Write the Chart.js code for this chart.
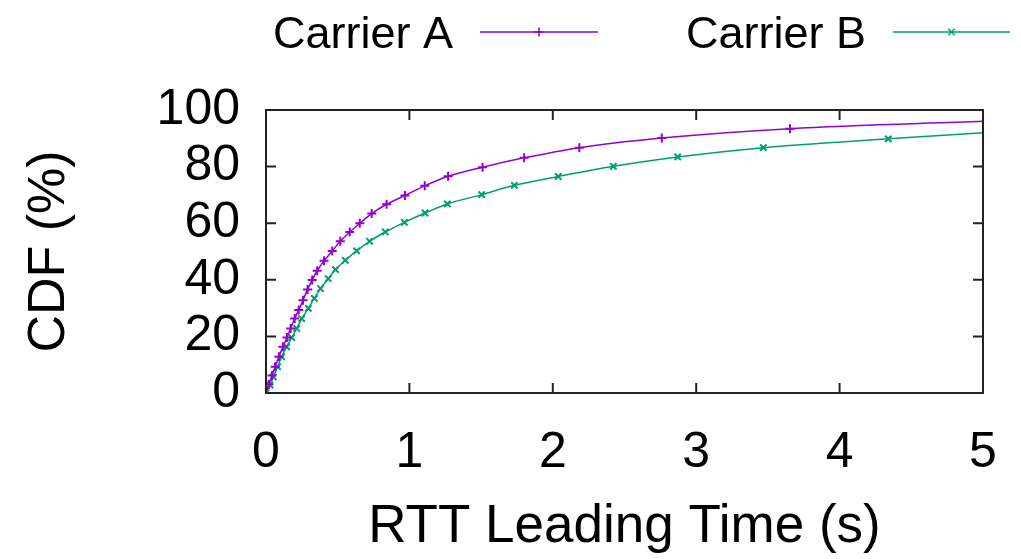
<!DOCTYPE html>
<html>
<head>
<meta charset="utf-8">
<script src="https://cdn.jsdelivr.net/npm/chart.js@4/dist/chart.umd.min.js"></script>
<style>
  html, body { margin: 0; padding: 0; background: #fff; }
  #wrap { width: 1021px; height: 559px; position: relative; }
</style>
</head>
<body>
<div id="wrap"><canvas id="cdf"></canvas></div>
<script>
// series (x in seconds, y in %)
const seriesNames = ['Carrier A', 'Carrier B'];
const carrierA_x = [0, 0.02, 0.042, 0.064, 0.09, 0.118, 0.146, 0.172, 0.2, 0.228, 0.258, 0.29, 0.322, 0.357, 0.405, 0.462, 0.518, 0.584, 0.654, 0.737, 0.841, 0.969, 1.107, 1.27, 1.51, 1.80, 2.185, 2.76, 3.654, 5.0];
const carrierA_y = [0, 3.0, 6.2, 9.3, 12.8, 16.3, 19.6, 22.8, 26.3, 29.3, 32.8, 36.6, 39.9, 43.2, 46.7, 50.2, 53.6, 56.9, 60.0, 63.4, 66.7, 69.8, 73.2, 76.6, 79.8, 83.1, 86.7, 90.1, 93.4, 96.0];
const carrierB_x = [0, 0.028, 0.051, 0.081, 0.109, 0.144, 0.179, 0.214, 0.249, 0.295, 0.337, 0.38, 0.434, 0.485, 0.553, 0.632, 0.722, 0.832, 0.965, 1.109, 1.265, 1.504, 1.732, 2.038, 2.422, 2.871, 3.468, 4.34, 5.0];
const carrierB_y = [0, 2.8, 5.7, 9.3, 12.8, 16.3, 19.6, 22.8, 26.3, 29.9, 33.4, 36.9, 40.4, 43.6, 46.9, 50.2, 53.6, 56.9, 60.3, 63.6, 66.8, 70.1, 73.4, 76.5, 80.1, 83.4, 86.7, 89.8, 92.0];
const xTicks = [0, 1, 2, 3, 4, 5];
const yTicks = [0, 20, 40, 60, 80, 100];

const colA = '#9400d3', colB = '#009e73';
const FONT = '"Liberation Sans", Arial, Helvetica, sans-serif';

const toPts = (xs, ys) => xs.map((x, i) => ({x: x, y: ys[i]}));
// last point is just where the line gets clipped, no marker there
const noLastMarker = (ctx) => ctx.dataIndex === ctx.dataset.data.length - 1 ? 0 : 4.5;

// gnuplot-like frame with inward ticks on all four sides
const frameTicks = {
  id: 'frameTicks',
  afterDraw(chart) {
    const {ctx, chartArea: a, scales: {x, y}} = chart;
    ctx.save();
    ctx.strokeStyle = '#222';
    ctx.lineWidth = 2;
    ctx.strokeRect(a.left, a.top, a.right - a.left, a.bottom - a.top);
    const L = 10;
    ctx.beginPath();
    xTicks.forEach(v => {
      const px = x.getPixelForValue(v);
      ctx.moveTo(px, a.bottom); ctx.lineTo(px, a.bottom - L);
      ctx.moveTo(px, a.top); ctx.lineTo(px, a.top + L);
    });
    yTicks.forEach(v => {
      const py = y.getPixelForValue(v);
      ctx.moveTo(a.left, py); ctx.lineTo(a.left + L, py);
      ctx.moveTo(a.right, py); ctx.lineTo(a.right - L, py);
    });
    ctx.stroke();
    ctx.restore();
  }
};

// key at the top: text first, then the line sample with its marker
const topKey = {
  id: 'topKey',
  afterDraw(chart) {
    const {ctx} = chart;
    const items = [
      {label: seriesNames[0], color: colA, style: 'cross', textRight: 453, x0: 480, x1: 598},
      {label: seriesNames[1], color: colB, style: 'crossRot', textRight: 866, x0: 893, x1: 1010}
    ];
    ctx.save();
    ctx.font = '45px ' + FONT;
    ctx.textAlign = 'right';
    ctx.textBaseline = 'alphabetic';
    ctx.fillStyle = '#000';
    items.forEach(it => {
      ctx.fillText(it.label, it.textRight, 48);
      ctx.strokeStyle = it.color;
      ctx.lineWidth = 1.5;
      ctx.beginPath();
      ctx.moveTo(it.x0, 32); ctx.lineTo(it.x1, 32);
      ctx.stroke();
      Chart.helpers.drawPoint(ctx, {pointStyle: it.style, radius: 4.5, borderWidth: 2}, (it.x0 + it.x1) / 2, 32);
    });
    ctx.restore();
  }
};

new Chart(document.getElementById('cdf'), {
  type: 'line',
  data: {
    datasets: [
      {
        label: seriesNames[0],
        data: toPts(carrierA_x, carrierA_y),
        borderColor: colA,
        backgroundColor: colA,
        borderWidth: 1.5,
        pointStyle: 'cross',
        pointRadius: noLastMarker,
        pointBorderWidth: 2,
        cubicInterpolationMode: 'monotone',
        fill: false
      },
      {
        label: seriesNames[1],
        data: toPts(carrierB_x, carrierB_y),
        borderColor: colB,
        backgroundColor: colB,
        borderWidth: 1.5,
        pointStyle: 'crossRot',
        pointRadius: noLastMarker,
        pointBorderWidth: 2,
        cubicInterpolationMode: 'monotone',
        fill: false
      }
    ]
  },
  options: {
    responsive: true,
    maintainAspectRatio: false,
    animation: false,
    layout: { padding: { top: 110, right: 38, left: 0, bottom: 0 } },
    plugins: {
      legend: { display: false },
      tooltip: { enabled: false }
    },
    scales: {
      x: {
        type: 'linear',
        min: 0, max: 5,
        // fixed height, and don't let the edge labels push the plot inwards
        afterFit: s => { s.height = 166; s.paddingLeft = 0; s.paddingRight = 0; },
        afterBuildTicks: s => { s.ticks = xTicks.map(v => ({value: v})); },
        grid: { display: false, drawTicks: false },
        border: { display: false },
        ticks: { color: '#000', font: { family: FONT, size: 50 }, padding: 30, maxRotation: 0, autoSkip: false },
        title: {
          display: true, text: 'RTT Leading Time (s)', color: '#000',
          font: { family: FONT, size: 53, lineHeight: 1 }, padding: { top: 0, bottom: 5 }
        }
      },
      y: {
        min: 0, max: 100,
        afterFit: s => { s.width = 266; },
        afterBuildTicks: s => { s.ticks = yTicks.map(v => ({value: v})); },
        grid: { display: false, drawTicks: false },
        border: { display: false },
        ticks: { color: '#000', font: { family: FONT, size: 50 }, padding: 26, autoSkip: false },
        title: {
          display: true, text: 'CDF (%)', color: '#000',
          font: { family: FONT, size: 52, lineHeight: 1 }, padding: { top: 24, bottom: 0 }
        }
      }
    }
  },
  plugins: [frameTicks, topKey]
});
</script>
</body>
</html>
